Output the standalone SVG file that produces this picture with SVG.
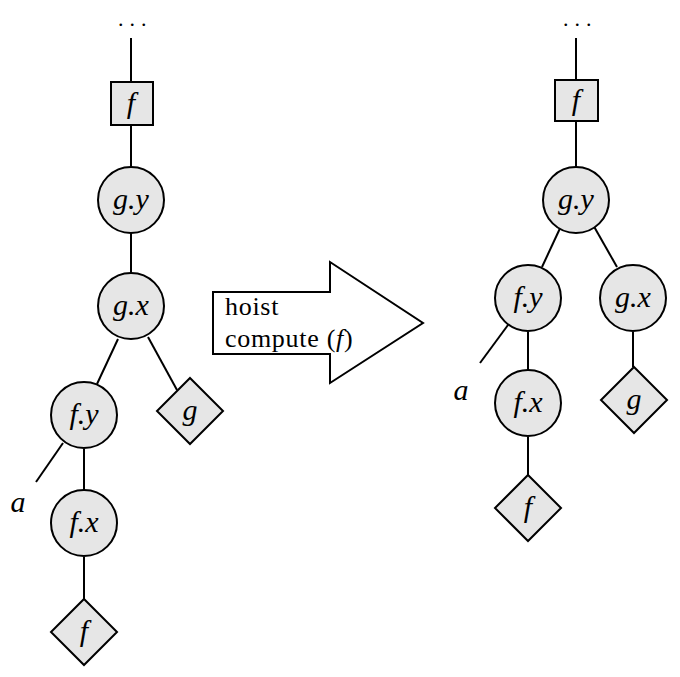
<svg xmlns="http://www.w3.org/2000/svg" width="680" height="677" viewBox="0 0 680 677">
<style>
.n{fill:#e6e6e6;stroke:#000;stroke-width:2}
.e{stroke:#000;stroke-width:2;fill:none}
.t{font-family:"Liberation Serif","DejaVu Serif",serif;font-style:italic;font-size:30px;text-anchor:middle;fill:#000}
.d{font-family:"Liberation Serif","DejaVu Serif",serif;font-size:22px;fill:#000;letter-spacing:6px}
.l{font-family:"Liberation Serif","DejaVu Serif",serif;font-size:26px;fill:#000;letter-spacing:0.7px}
</style>
<rect width="680" height="677" fill="#fff"/>
<g id="connectors">
<line class="e" x1="131" y1="38" x2="131" y2="82"/>
<line class="e" x1="131" y1="125" x2="131" y2="167"/>
<line class="e" x1="131" y1="233" x2="131" y2="273"/>
<line class="e" x1="118" y1="339" x2="97" y2="384"/>
<line class="e" x1="148" y1="337" x2="177" y2="390"/>
<line class="e" x1="63" y1="443" x2="36" y2="482"/>
<line class="e" x1="84" y1="449" x2="84" y2="490"/>
<line class="e" x1="84" y1="557" x2="84" y2="599"/>
<line class="e" x1="576" y1="38" x2="576" y2="80"/>
<line class="e" x1="576" y1="121" x2="576" y2="167"/>
<line class="e" x1="562" y1="224" x2="542" y2="267"/>
<line class="e" x1="592" y1="223" x2="617" y2="267"/>
<line class="e" x1="508" y1="325" x2="480" y2="363"/>
<line class="e" x1="528" y1="332" x2="528" y2="370"/>
<line class="e" x1="633" y1="332" x2="633" y2="367"/>
<line class="e" x1="528" y1="437" x2="528" y2="475"/>
</g>
<g id="L-dots"><text class="d" x="118" y="26">...</text></g>
<g id="L-f-box"><rect class="n" x="111" y="82" width="42" height="43"/><text class="t" x="131" y="113">f</text></g>
<g id="L-gy"><circle class="n" cx="131" cy="200" r="33"/><text class="t" x="131" y="209">g.y</text></g>
<g id="L-gx"><circle class="n" cx="131" cy="306" r="33"/><text class="t" x="131" y="315">g.x</text></g>
<g id="L-fy"><circle class="n" cx="84" cy="415" r="33"/><text class="t" x="84" y="424">f.y</text></g>
<g id="L-g"><polygon class="n" points="190,378 223,411 190,444 157,411"/><text class="t" x="190" y="420">g</text></g>
<g id="L-a"><text class="t" x="18" y="512">a</text></g>
<g id="L-fx"><circle class="n" cx="84" cy="523" r="33"/><text class="t" x="84" y="532">f.x</text></g>
<g id="L-f"><polygon class="n" points="84,599 117,632 84,665 51,632"/><text class="t" x="84" y="641">f</text></g>
<g id="arrow"><polygon points="213,292 330,292 330,262 423,323 330,383 330,354 213,354" fill="#fff" stroke="#000" stroke-width="2"/><text class="l" x="225" y="315">hoist</text><text class="l" x="225" y="347">compute (<tspan font-style="italic">f</tspan>)</text></g>
<g id="R-dots"><text class="d" x="563" y="26">...</text></g>
<g id="R-f-box"><rect class="n" x="555" y="80" width="43" height="41"/><text class="t" x="576" y="110">f</text></g>
<g id="R-gy"><circle class="n" cx="576" cy="200" r="33"/><text class="t" x="576" y="209">g.y</text></g>
<g id="R-fy"><circle class="n" cx="528" cy="298" r="33"/><text class="t" x="528" y="307">f.y</text></g>
<g id="R-gx"><circle class="n" cx="633" cy="298" r="33"/><text class="t" x="633" y="307">g.x</text></g>
<g id="R-a"><text class="t" x="461" y="400">a</text></g>
<g id="R-fx"><circle class="n" cx="528" cy="403" r="33"/><text class="t" x="528" y="412">f.x</text></g>
<g id="R-g"><polygon class="n" points="634,367 667,400 634,433 601,400"/><text class="t" x="634" y="409">g</text></g>
<g id="R-f"><polygon class="n" points="528,475 561,508 528,541 495,508"/><text class="t" x="528" y="517">f</text></g>
</svg>
